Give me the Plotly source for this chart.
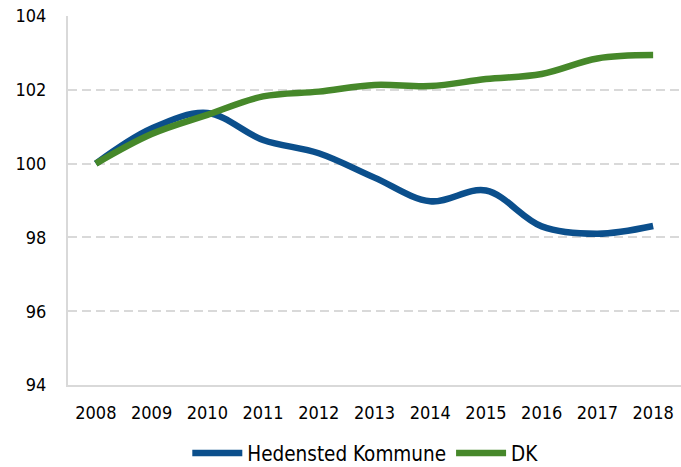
import plotly.graph_objects as go

years = ["2008", "2009", "2010", "2011", "2012", "2013", "2014", "2015", "2016", "2017", "2018"]
hedensted = [100.0, 100.95, 101.37, 100.64, 100.28, 99.62, 98.98, 99.27, 98.3, 98.1, 98.31]
dk = [100.0, 100.8, 101.32, 101.82, 101.95, 102.13, 102.1, 102.29, 102.43, 102.85, 102.94]
y_ticks = [94, 96, 98, 100, 102, 104]

FONT = "DejaVu Sans Condensed, DejaVu Sans, sans-serif"

fig = go.Figure()
fig.add_trace(go.Scatter(x=years, y=hedensted, mode="lines", name="Hedensted Kommune",
                         line=dict(color="#0B4F8C", width=6.5, shape="spline", smoothing=1)))
fig.add_trace(go.Scatter(x=years, y=dk, mode="lines", name="DK",
                         line=dict(color="#46882A", width=6.5, shape="spline", smoothing=1)))

fig.update_layout(
    width=681, height=467,
    margin=dict(l=68, r=0, t=16, b=82, autoexpand=False),
    paper_bgcolor="white", plot_bgcolor="white",
    font=dict(family=FONT, size=18, color="#000000"),
    showlegend=True,
    legend=dict(orientation="h", x=0.485, xanchor="center", y=-0.185, yanchor="middle",
                font=dict(family=FONT, size=20.5, color="#000000"), itemwidth=50,
                tracegroupgap=0, borderwidth=0),
)
fig.update_xaxes(type="category", range=[-0.5, 10.5], showgrid=False, automargin=False,
                 showline=True, linecolor="#d9d9d9", linewidth=2,
                 ticks="", ticklabelstandoff=10, tickfont=dict(family=FONT, size=18))
fig.update_yaxes(range=[94, 104], tickvals=y_ticks, showgrid=True, gridcolor="#d9d9d9",
                 griddash="9px,5px", gridwidth=1.5, showline=True, linecolor="#d9d9d9", linewidth=2,
                 zeroline=False, automargin=False, ticks="", ticklabelstandoff=16,
                 tickfont=dict(family=FONT, size=18))

# remove the default 8px page margin so the figure fills the window exactly
fig.write_html("out.html", config={"displayModeBar": False},
               post_script="document.body.style.margin='0';document.body.style.overflow='hidden';")
